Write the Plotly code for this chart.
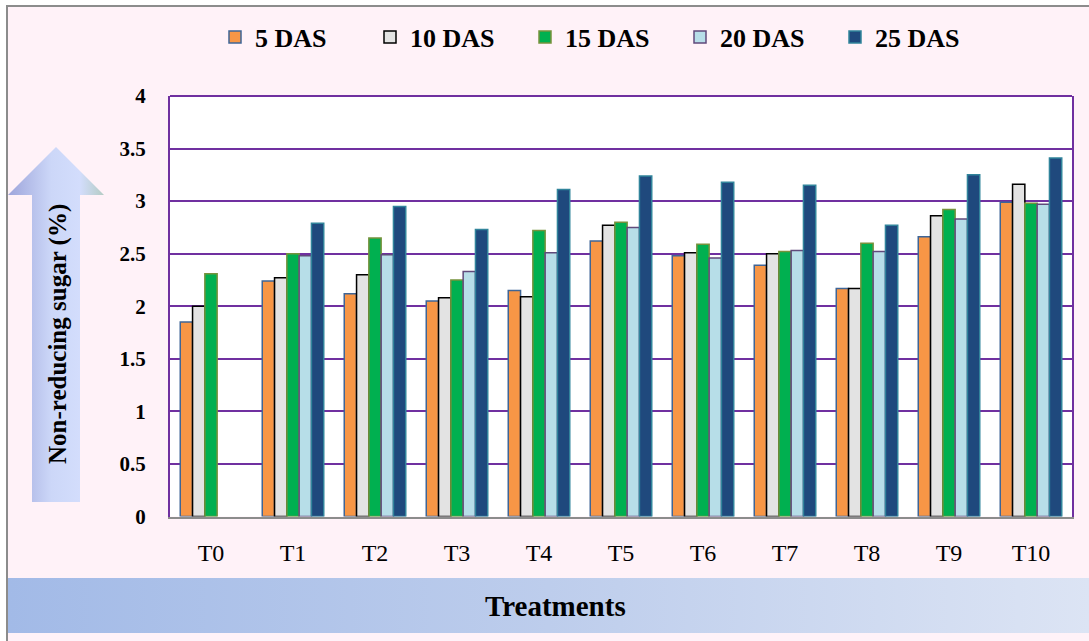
import plotly.graph_objects as go

# Non-reducing sugar (%) by treatment at five sampling dates
treatments = ["T0", "T1", "T2", "T3", "T4", "T5", "T6", "T7", "T8", "T9", "T10"]
das5 = [1.85, 2.24, 2.12, 2.05, 2.15, 2.62, 2.48, 2.39, 2.17, 2.66, 2.99]
das10 = [2.00, 2.27, 2.30, 2.08, 2.09, 2.77, 2.51, 2.50, 2.17, 2.86, 3.16]
das15 = [2.31, 2.50, 2.65, 2.25, 2.72, 2.80, 2.59, 2.52, 2.60, 2.92, 2.98]
das20 = [None, 2.48, 2.49, 2.33, 2.51, 2.75, 2.46, 2.53, 2.52, 2.83, 2.97]
das25 = [None, 2.79, 2.95, 2.73, 3.11, 3.24, 3.18, 3.15, 2.77, 3.25, 3.41]
series_names = ["5 DAS", "10 DAS", "15 DAS", "20 DAS", "25 DAS"]
y_ticks = [0, 0.5, 1, 1.5, 2, 2.5, 3, 3.5, 4]

W, H = 1089, 641
SERIF = "Liberation Serif"
PURPLE = "#7030A0"

fills = ["#F79646", "#E3E3E3", "#00B050", "#B7DEE8", "#1F497D"]
edges = ["#3F6596", "#000000", "#76923C", "#604A7B", "#31849B"]

fig = go.Figure()

for name, vals, fc, lc in zip(series_names, [das5, das10, das15, das20, das25], fills, edges):
    fig.add_trace(go.Bar(
        x=treatments, y=vals, name=name,
        marker=dict(color=fc, line=dict(color=lc, width=1.5)),
        xaxis="x", yaxis="y",
    ))

# Decorative layer in pixel coordinates: upward arrow behind the y title
arrow_x = [56, 104, 80, 80, 32, 32, 8, 56]
arrow_y = [147, 195, 195, 502, 502, 195, 195, 147]
fig.add_trace(go.Scatter(
    x=arrow_x, y=arrow_y, mode="lines", fill="toself",
    line=dict(width=0, color="rgba(0,0,0,0)"),
    fillgradient=dict(type="horizontal", colorscale=[
        [0.0, "#9EA5DB"], [0.45, "#CCD7F8"], [0.75, "#D3DDFC"], [1.0, "#B4CCC4"]]),
    showlegend=False, hoverinfo="skip", xaxis="x2", yaxis="y2",
))

# Title banner along the bottom
banner_x = [8, 1089, 1089, 8, 8]
banner_y = [578, 578, 633, 633, 578]
fig.add_trace(go.Scatter(
    x=banner_x, y=banner_y, mode="lines", fill="toself",
    line=dict(width=0, color="rgba(0,0,0,0)"),
    fillgradient=dict(type="horizontal", colorscale=[
        [0.0, "#A2BAE7"], [0.5, "#BDCDEC"], [1.0, "#DCE4F4"]]),
    showlegend=False, hoverinfo="skip", xaxis="x2", yaxis="y2",
))

x0d, x1d = 170 / W, 1072 / W
y0d, y1d = 1 - 516.5 / H, 1 - 96 / H

fig.update_layout(
    width=W, height=H, autosize=False,
    margin=dict(l=0, r=0, t=0, b=0, pad=0, autoexpand=False),
    paper_bgcolor="white",
    plot_bgcolor="rgba(0,0,0,0)",
    barmode="group", bargap=0.25, bargroupgap=0,
    font=dict(family=SERIF, color="black"),
    xaxis=dict(
        domain=[x0d, x1d], type="category", automargin=False,
        showline=True, linecolor="#8C8C8C", linewidth=2,
        showgrid=False, ticks="", ticklabelstandoff=14,
        tickfont=dict(family=SERIF, size=24, color="black"),
        fixedrange=True,
    ),
    yaxis=dict(
        domain=[y0d, y1d], range=[0, 4], automargin=False,
        tickvals=y_ticks, ticktext=[f"{v:g}" for v in y_ticks],
        showline=True, linecolor=PURPLE, linewidth=2, mirror=True,
        showgrid=True, gridcolor=PURPLE, gridwidth=2,
        zeroline=False, ticks="", ticklabelstandoff=18,
        tickfont=dict(family=SERIF, size=21, color="black", weight="bold"),
        fixedrange=True,
    ),
    xaxis2=dict(domain=[0, 1], range=[0, W], visible=False, fixedrange=True,
                automargin=False, anchor="y2"),
    yaxis2=dict(domain=[0, 1], range=[H, 0], visible=False, fixedrange=True,
                automargin=False, anchor="x2"),
    legend=dict(
        orientation="h", x=215 / W, xanchor="left", y=1 - 37 / H, yanchor="middle",
        entrywidth=110, entrywidthmode="pixels",
        font=dict(family=SERIF, size=26, color="black", weight="bold"),
        bgcolor="rgba(0,0,0,0)", traceorder="normal",
    ),
    showlegend=True,
)

# Page frame with pink fill, white plotting area and purple top edge
fig.add_shape(type="rect", xref="paper", yref="paper",
              x0=7 / W, x1=1.02, y0=-0.02, y1=1 - 6 / H,
              fillcolor="#FFF2F8", line=dict(color="#8C8C8C", width=2), layer="below")
fig.add_shape(type="rect", xref="x domain", yref="y domain",
              x0=0, x1=1, y0=0, y1=1, fillcolor="white", line=dict(width=0), layer="below")
fig.add_shape(type="line", xref="x domain", yref="y domain",
              x0=0, x1=1, y0=1, y1=1, line=dict(color=PURPLE, width=2))

fig.add_annotation(text="<b>Non-reducing sugar (%)</b>", xref="paper", yref="paper",
                   x=58 / W, y=1 - 334 / H, xanchor="center", yanchor="middle",
                   textangle=-90, showarrow=False,
                   font=dict(family=SERIF, size=25, color="black"))
fig.add_annotation(text="<b>Treatments</b>", xref="paper", yref="paper",
                   x=555 / W, y=1 - 606 / H, xanchor="center", yanchor="middle",
                   showarrow=False,
                   font=dict(family=SERIF, size=29, color="black"))

fig.write_html("out.html")
